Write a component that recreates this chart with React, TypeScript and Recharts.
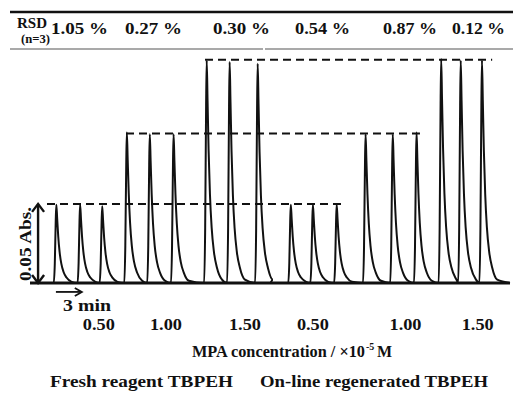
import React from "react";
import { LineChart, Line, XAxis, YAxis, ReferenceLine } from "recharts";

// peak positions (min) and heights (Abs)
const freshTimes = [3.1, 5.9, 8.5, 11.4, 14.1, 16.9, 20.8, 23.5, 26.8];
const freshHeights = [0.05, 0.05, 0.049, 0.096, 0.095, 0.095, 0.142, 0.141, 0.14];
const regenTimes = [30.7, 33.3, 36.1, 39.5, 42.7, 45.5, 48.4, 50.7, 53.2];
const regenHeights = [0.05, 0.05, 0.05, 0.095, 0.095, 0.096, 0.143, 0.142, 0.142];

// hand-drawn single peak: time offset (min) and fraction of peak height
const profileOffsets = [-0.3, -0.18, -0.07, 0, 0.1, 0.22, 0.38, 0.58, 0.85, 1.2, 1.8];
const profileShape = [0, 0.25, 0.8, 1, 0.82, 0.6, 0.4, 0.25, 0.14, 0.07, 0.015];

// dashed guide lines: level and span
const dashLevels = [0.0505, 0.0955, 0.1425];
const dashStarts = [2.0, 11.3, 20.6];
const dashEnds = [37.1, 45.9, 54.4];

const tickPositions = [8.1, 16.0, 25.3, 33.3, 44.2, 52.7];
const tickLabels = ["0.50", "1.00", "1.50", "0.50", "1.00", "1.50"];

const rsdLabels = ["1.05 %", "0.27 %", "0.30 %", "0.54 %", "0.87 %", "0.12 %"];
const rsdStarts = [51, 125, 213, 295, 383, 452];
const rsdWidths = [57, 57, 57, 55, 54, 53];

const FONT = "'Liberation Serif', 'Times New Roman', serif";

function buildTrace(times: number[], heights: number[], start: number, end: number) {
  const pts: { t: number; a: number }[] = [{ t: start, a: 0 }];
  times.forEach((t0, i) => {
    profileOffsets.forEach((o, j) => {
      pts.push({ t: +(t0 + o).toFixed(3), a: heights[i] * profileShape[j] });
    });
  });
  pts.push({ t: end, a: 0 });
  return pts;
}

const freshTrace = buildTrace(freshTimes, freshHeights, 0, 28.3);
const regenTrace = buildTrace(regenTimes, regenHeights, 28.3, 56.5);

function DoubleArrow(props: any) {
  const { x1, y1, x2, y2 } = props;
  const top = Math.min(y1, y2);
  const bot = Math.max(y1, y2);
  return (
    <g stroke="#111" strokeWidth={2.4} fill="none">
      <line x1={x1} y1={top} x2={x2} y2={bot} />
      <path d={`M${x1 - 6},${top + 8} L${x1},${top} L${x1 + 6},${top + 8}`} />
      <path d={`M${x1 - 6},${bot - 8} L${x1},${bot} L${x1 + 6},${bot - 8}`} />
    </g>
  );
}

function TimeArrow(props: any) {
  const { x1, y1, x2 } = props;
  return (
    <g stroke="#111" strokeWidth={1.8} fill="none">
      <line x1={x1} y1={y1} x2={x2} y2={y1} />
      <path d={`M${x2 - 7},${y1 - 4} L${x2},${y1} L${x2 - 7},${y1 + 4}`} />
    </g>
  );
}

function ConcTick(props: any) {
  const { x, y, index } = props;
  return (
    <text x={x} y={y + 39} textAnchor="middle" fontFamily={FONT} fontWeight="bold" fontSize={17} fill="#111" textLength={32} lengthAdjust="spacingAndGlyphs">
      {tickLabels[index]}
    </text>
  );
}

export default function App() {
  const txt = { fontFamily: FONT, fontWeight: "bold" as const, fill: "#111" };
  return (
    <div style={{ position: "absolute", left: 0, top: 0, width: 513, height: 393, background: "#fff" }}>
      <LineChart width={513} height={393} margin={{ top: 48, right: 3, left: 30, bottom: 70 }}>
        <XAxis
          type="number"
          dataKey="t"
          domain={[0, 56.5]}
          ticks={tickPositions}
          tick={<ConcTick />}
          axisLine={false}
          tickLine={false}
          height={40}
          padding={{ left: 0, right: 0 }}
          interval={0}
        />
        <YAxis type="number" domain={[0, 0.15]} hide />
        <ReferenceLine segment={[{ x: 0, y: 0 }, { x: 56.5, y: 0 }]} stroke="#111" strokeWidth={3} />
        {dashLevels.map((lv, i) => (
          <ReferenceLine
            key={i}
            segment={[{ x: dashStarts[i], y: lv }, { x: dashEnds[i], y: lv }]}
            stroke="#111"
            strokeWidth={2}
            strokeDasharray="8 5"
          />
        ))}
        <ReferenceLine segment={[{ x: 0.95, y: 0 }, { x: 0.95, y: 0.0505 }]} shape={<DoubleArrow />} ifOverflow="visible" />
        <ReferenceLine segment={[{ x: 3.05, y: -0.0057 }, { x: 6.1, y: -0.0057 }]} shape={<TimeArrow />} ifOverflow="visible" />
        <Line data={freshTrace} dataKey="a" type="monotone" stroke="#111" strokeWidth={2} dot={false} isAnimationActive={false} />
        <Line data={regenTrace} dataKey="a" type="monotone" stroke="#111" strokeWidth={2} dot={false} isAnimationActive={false} />
      </LineChart>
      <svg width={513} height={393} style={{ position: "absolute", left: 0, top: 0, pointerEvents: "none" }}>
        <line x1={10} y1={12} x2={513} y2={12} stroke="#111" strokeWidth={2.5} />
        <line x1={10} y1={49} x2={263} y2={49} stroke="#555" strokeWidth={1.2} />
        <line x1={265} y1={49} x2={513} y2={49} stroke="#555" strokeWidth={1.2} />
        <text x={17} y={28} fontSize={15} textLength={30} lengthAdjust="spacingAndGlyphs" {...txt}>RSD</text>
        <text x={21} y={43} fontSize={13} textLength={29} lengthAdjust="spacingAndGlyphs" {...txt}>(n=3)</text>
        {rsdLabels.map((l, i) => (
          <text key={i} x={rsdStarts[i]} y={34} fontSize={17} textLength={rsdWidths[i]} lengthAdjust="spacingAndGlyphs" {...txt}>
            {l}
          </text>
        ))}
        <text x={63} y={311} fontSize={17} textLength={48} lengthAdjust="spacingAndGlyphs" {...txt}>3 min</text>
        <text transform="translate(31,244) rotate(-90)" textAnchor="middle" fontSize={16} textLength={74} lengthAdjust="spacingAndGlyphs" {...txt}>
          0.05 Abs.
        </text>
        <text x={192} y={357} fontSize={16} textLength={173} lengthAdjust="spacingAndGlyphs" {...txt}>MPA concentration / ×10</text>
        <text x={366} y={350} fontSize={10} {...txt}>-5</text>
        <text x={377} y={357} fontSize={16} {...txt}>M</text>
        <text x={50} y={387} fontSize={17} textLength={183} lengthAdjust="spacingAndGlyphs" {...txt}>Fresh reagent TBPEH</text>
        <text x={260} y={387} fontSize={17} textLength={228} lengthAdjust="spacingAndGlyphs" {...txt}>On-line regenerated TBPEH</text>
      </svg>
    </div>
  );
}
